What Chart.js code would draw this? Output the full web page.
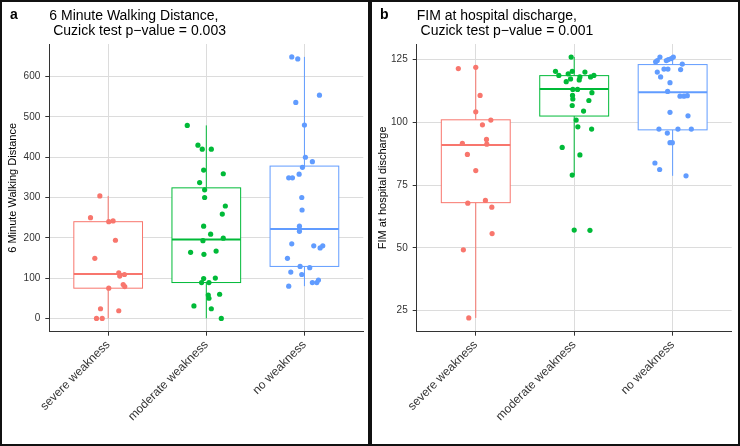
<!DOCTYPE html>
<html>
<head>
<meta charset="utf-8">
<script src="https://cdn.jsdelivr.net/npm/chart.js@4.4.0/dist/chart.umd.min.js"></script>
<style>
  body { margin: 0; background: #fff; }
  .wrap { display: flex; width: 740px; height: 446px; }
  canvas { display: block; }
</style>
</head>
<body>
<div class="wrap">
  <canvas id="panelA" width="370" height="446"></canvas>
  <canvas id="panelB" width="370" height="446"></canvas>
</div>
<script>
const categories = ['severe weakness', 'moderate weakness', 'no weakness'];
const colors = ['#F8766D', '#00BA38', '#619CFF'];

// panel a: 6 minute walking distance
const walkSevere = [304, 250, 240, 242, 194, 149, 113, 105, 109, 84, 79, 75, 24, 19, 0, 0];
const walkSevereJit = [-0.085, -0.18, 0.006, 0.05, 0.074, -0.136, 0.108, 0.118, 0.166, 0.153, 0.169, 0.006, -0.078, 0.108, -0.119, -0.061];
const walkModerate = [479, 430, 420, 420, 368, 337, 359, 319, 300, 279, 259, 229, 209, 193, 199, 164, 167, 159, 99, 89, 100, 89, 58, 50, 60, 31, 24, 0];
const walkModerateJit = [-0.194, -0.085, -0.041, 0.051, -0.027, -0.068, 0.173, -0.017, -0.017, 0.194, 0.163, -0.027, 0.044, -0.034, 0.173, -0.16, 0.10, -0.024, -0.027, -0.048, 0.092, 0.027, 0.02, 0.027, 0.136, -0.126, 0.051, 0.153];
const walkNone = [649, 644, 536, 554, 480, 400, 389, 375, 358, 349, 349, 300, 269, 229, 216, 185, 180, 180, 175, 149, 115, 129, 126, 109, 80, 89, 89, 95];
const walkNoneJit = [-0.129, -0.068, -0.088, 0.153, 0, 0.01, 0.081, -0.02, -0.054, -0.16, -0.122, -0.027, -0.024, -0.051, -0.051, -0.129, 0.095, 0.187, 0.16, -0.173, -0.139, -0.044, 0.054, -0.027, -0.16, 0.081, 0.126, 0.143];
const walkQ1 = [75, 89, 129];
const walkMedian = [110, 196, 222];
const walkQ3 = [240, 324, 378];
const walkLow = [0, 0, 80];
const walkHigh = [304, 479, 649];
const walkTicks = [0, 100, 200, 300, 400, 500, 600];

// panel b: FIM at hospital discharge
const fimSevere = [121.4, 121.9, 110.7, 104.2, 100.9, 99.0, 93.2, 91.6, 91.3, 87.2, 80.8, 67.8, 68.9, 66.2, 55.7, 49.2, 22.1];
const fimSevereJit = [-0.177, 0, 0.044, 0, 0.153, 0.068, 0.109, -0.136, 0.112, -0.085, 0, -0.081, 0.098, 0.163, 0.166, -0.126, -0.071];
const fimModerate = [126, 120.3, 118.7, 119.3, 120.3, 120, 118.7, 118.1, 118.1, 116.9, 117.3, 116.2, 113.1, 113.1, 111.8, 110.7, 109.3, 108.7, 106.7, 104.5, 100.9, 98.2, 97.3, 90, 87, 79, 57.1, 57];
const fimModerateJit = [-0.031, -0.19, -0.156, -0.061, -0.02, 0.109, 0.2, 0.166, 0.058, 0.051, -0.037, -0.081, -0.014, 0.034, 0.18, -0.017, -0.014, 0.149, -0.02, 0.095, 0.02, 0.037, 0.177, -0.122, 0.058, -0.02, 0, 0.16];
const fimNone = [126, 126, 125.4, 125, 124.6, 124.6, 124.1, 123.2, 121.2, 121.2, 121, 120, 118.1, 115.8, 112.3, 110.4, 110.4, 110.6, 104, 102.6, 97.3, 97.3, 97.3, 95.7, 91.9, 91.9, 83.8, 81.2, 78.7];
const fimNoneJit = [-0.129, 0.007, -0.014, -0.044, -0.064, -0.156, -0.173, 0.098, -0.088, -0.048, 0.081, -0.156, -0.122, -0.027, -0.051, 0.075, 0.115, 0.149, -0.027, 0.156, -0.139, 0.054, 0.19, -0.054, -0.027, -0.003, -0.18, -0.132, 0.136];
const fimQ1 = [68, 102.5, 97];
const fimMedian = [91, 113.3, 112];
const fimQ3 = [101, 118.6, 123];
const fimLow = [22.1, 79, 78.7];
const fimHigh = [121.9, 126, 126];
const fimTicks = [25, 50, 75, 100, 125];

const FONT = "'Liberation Sans', Arial, sans-serif";

// boxes + whiskers, drawn under the jittered points
const boxPlugin = {
  id: 'boxes',
  beforeDatasetsDraw(chart) {
    const o = chart.options.plugins.boxes;
    const { ctx, scales: { x, y } } = chart;
    ctx.save();
    for (let i = 0; i < categories.length; i++) {
      const cx = x.getPixelForValue(i + 1);
      const half = x.getPixelForValue(i + 1 + 0.35) - cx;
      ctx.strokeStyle = colors[i];
      ctx.lineWidth = 1;
      ctx.beginPath();
      ctx.moveTo(cx, y.getPixelForValue(o.low[i]));
      ctx.lineTo(cx, y.getPixelForValue(o.q1[i]));
      ctx.moveTo(cx, y.getPixelForValue(o.q3[i]));
      ctx.lineTo(cx, y.getPixelForValue(o.high[i]));
      ctx.stroke();
      const top = y.getPixelForValue(o.q3[i]);
      const bot = y.getPixelForValue(o.q1[i]);
      ctx.fillStyle = '#fff';
      ctx.fillRect(cx - half, top, half * 2, bot - top);
      ctx.strokeRect(cx - half, top, half * 2, bot - top);
      ctx.lineWidth = 2;
      ctx.beginPath();
      const m = y.getPixelForValue(o.median[i]);
      ctx.moveTo(cx - half, m);
      ctx.lineTo(cx + half, m);
      ctx.stroke();
    }
    ctx.restore();
  }
};

// panel letter, two-line title and frame
const framePlugin = {
  id: 'frame',
  afterDraw(chart) {
    const o = chart.options.plugins.frame;
    const { ctx, chartArea } = chart;
    ctx.save();
    ctx.fillStyle = '#000';
    ctx.font = 'bold 14px ' + FONT;
    ctx.textBaseline = 'alphabetic';
    ctx.fillText(o.letter, 10, 19);
    ctx.font = '14px ' + FONT;
    ctx.fillText(o.title[0], chartArea.left, 20);
    ctx.fillText(o.title[1], chartArea.left, 35);
    ctx.strokeStyle = '#111';
    ctx.lineWidth = 2;
    ctx.strokeRect(1, 1, chart.width - 2, chart.height - 2);
    ctx.restore();
  }
};

function groupData(values, jit, idx) {
  return values.map((v, i) => ({ x: idx + 1 + jit[i], y: v }));
}

function makePanel(id, cfg) {
  const datasets = cfg.groups.map((g, i) => ({
    data: groupData(g[0], g[1], i),
    backgroundColor: colors[i],
    borderWidth: 0,
    pointRadius: 2.6
  }));
  return new Chart(document.getElementById(id), {
    type: 'scatter',
    data: { datasets },
    plugins: [boxPlugin, framePlugin],
    options: {
      responsive: false,
      animation: false,
      layout: { padding: { top: 44, right: cfg.padRight, left: 0, bottom: 0 } },
      plugins: {
        legend: { display: false },
        tooltip: { enabled: false },
        boxes: cfg.box,
        frame: { letter: cfg.letter, title: cfg.title }
      },
      scales: {
        x: {
          type: 'linear',
          min: 0.4,
          max: 3.6,
          afterBuildTicks: (s) => { s.ticks = [1, 2, 3].map(v => ({ value: v })); },
          afterFit: (s) => { s.height = 114.3; },
          ticks: {
            autoSkip: false,
            minRotation: 45,
            maxRotation: 45,
            padding: 2,
            color: '#333',
            font: { family: FONT, size: 12 },
            callback: (v) => categories[v - 1]
          },
          grid: { color: '#dcdcdc', tickColor: '#333', tickLength: 4 },
          border: { color: '#333', width: 1 }
        },
        y: {
          min: cfg.yMin,
          max: cfg.yMax,
          afterBuildTicks: (s) => { s.ticks = cfg.ticks.map(v => ({ value: v })); },
          afterFit: (s) => { s.width = cfg.yWidth; },
          ticks: {
            padding: 5,
            color: '#333',
            font: { family: FONT, size: 10 }
          },
          grid: { color: '#dcdcdc', tickColor: '#333', tickLength: 4 },
          border: { color: '#333', width: 1 },
          title: {
            display: true,
            text: cfg.yTitle,
            color: '#000',
            font: { family: FONT, size: 11 },
            padding: { top: 6, bottom: 0 }
          }
        }
      }
    }
  });
}

makePanel('panelA', {
  letter: 'a',
  title: ['6 Minute Walking Distance,', ' Cuzick test p\u2212value = 0.003'],
  yTitle: '6 Minute Walking Distance',
  groups: [[walkSevere, walkSevereJit], [walkModerate, walkModerateJit], [walkNone, walkNoneJit]],
  box: { q1: walkQ1, median: walkMedian, q3: walkQ3, low: walkLow, high: walkHigh },
  ticks: walkTicks,
  yMin: -33,
  yMax: 681,
  yWidth: 49.3,
  padRight: 6.7
});

makePanel('panelB', {
  letter: 'b',
  title: ['FIM at hospital discharge,', ' Cuzick test p\u2212value = 0.001'],
  yTitle: 'FIM at hospital discharge',
  groups: [[fimSevere, fimSevereJit], [fimModerate, fimModerateJit], [fimNone, fimNoneJit]],
  box: { q1: fimQ1, median: fimMedian, q3: fimQ3, low: fimLow, high: fimHigh },
  ticks: fimTicks,
  yMin: 16.6,
  yMax: 131.2,
  yWidth: 46.7,
  padRight: 8.3
});
</script>
</body>
</html>
